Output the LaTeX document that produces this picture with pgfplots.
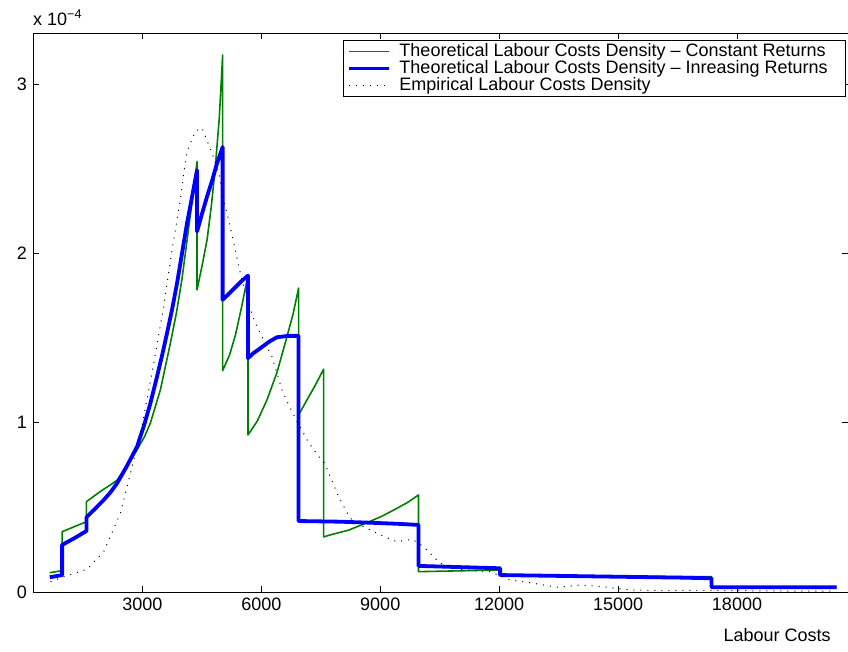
\documentclass[border=0pt]{standalone}
\usepackage{fontspec}
\setmainfont{Liberation Sans}
\usepackage{pgfplots}
\pgfplotsset{compat=1.18}
\definecolor{mgreen}{rgb}{0,0.5,0}
\definecolor{mblue}{rgb}{0,0,1}
\begin{document}
\fontsize{18bp}{20bp}\selectfont
\begin{tikzpicture}
\begin{axis}[
  at={(33bp,60bp)}, anchor=south west,
  width=815bp, height=559bp, scale only axis,
  xmin=240, xmax=20800, ymin=0, ymax=3.3,
  xtick={3000,6000,9000,12000,15000,18000},
  ytick={0,1,2,3},
  scaled x ticks=false,
  tick align=inside,
  major tick length=6bp,
  axis line style={line width=0.8bp},
  every tick/.style={black, line width=0.6bp},
  /pgf/number format/assume math mode=true,
  /pgf/number format/set thousands separator={},
  xticklabel={\pgfmathprintnumber[fixed,precision=0]{\tick}},
  ticklabel style={font=\fontsize{18bp}{20bp}\selectfont},
  xlabel={Labour Costs},
  xlabel style={at={(axis description cs:0.979,-0.0894)}, anchor=base east, inner sep=0pt},
  ylabel={x 10\textsuperscript{−4}},
  ylabel style={at={(axis description cs:0,1.0143)}, anchor=base west, rotate=-90, inner sep=0pt},
  legend style={at={(axis description cs:1,1)}, anchor=north east, xshift=-2bp, yshift=-7bp,
    draw=black, line width=0.6bp, inner xsep=3bp, inner ysep=3bp,
    font=\fontsize{18bp}{20bp}\selectfont, row sep=0pt,
    nodes={inner ysep=0.5bp, inner xsep=2bp},
    /tikz/every odd column/.append style={column sep=7bp}},
  legend cell align=left,
  legend image code/.code={\draw[#1] (0bp,0bp) -- (40bp,0bp);},
]
\addplot[mgreen, line width=1.6bp, line join=round] coordinates {
(663,0.114) (975,0.126) (975,0.356) (1588,0.415) (1588,0.533)
(1800,0.570) (2000,0.603) (2200,0.633) (2361,0.660) (2600,0.740) (2865,0.840)
(3050,0.915) (3201,0.997) (3453,1.193) (3706,1.469) (3860,1.650) (4000,1.850)
(4167,2.150) (4280,2.350) (4378,2.540) (4378,1.784) (4500,1.920)
(4631,2.079) (4740,2.280) (4840,2.510) (4940,2.800) (5024,3.170) (5024,1.307)
(5200,1.400) (5350,1.520) (5500,1.680) (5663,1.868) (5663,0.927)
(5900,1.010) (6143,1.134) (6400,1.300) (6647,1.508) (6800,1.640)
(6940,1.794) (6940,1.045) (7152,1.134) (7360,1.220) (7570,1.315)
(7570,0.325) (7739,0.337) (8200,0.365) (8664,0.409) (9050,0.448) (9420,0.494)
(9700,0.530) (9965,0.573) (9965,0.120) (12024,0.130) (12024,0.095) (17358,0.090)
(17358,0.028) (20512,0.028)
};
\addlegendentry{Theoretical Labour Costs Density – Constant Returns}
\addplot[mblue, line width=3.8bp, line join=round] coordinates {
(663,0.087) (975,0.100) (975,0.278) (1300,0.320) (1588,0.360) (1588,0.441)
(1800,0.490) (2024,0.543) (2200,0.590) (2361,0.642) (2600,0.740) (2865,0.858)
(3050,0.990) (3201,1.114) (3369,1.272) (3500,1.400) (3621,1.528) (3750,1.670)
(3874,1.823) (4000,2.000) (4126,2.177) (4250,2.330) (4378,2.490) (4378,2.128)
(4500,2.230) (4630,2.334) (4760,2.430) (4882,2.530) (5024,2.627) (5024,1.725)
(5200,1.765) (5350,1.800) (5500,1.835) (5663,1.868) (5663,1.380)
(5800,1.410) (5974,1.439) (6200,1.478) (6395,1.504) (6680,1.512)
(6940,1.512) (6940,0.419) (8000,0.415) (8747,0.409) (9400,0.403) (9965,0.396) (9965,0.154)
(12024,0.140) (12024,0.100) (16561,0.085) (17358,0.081) (17358,0.028)
(20512,0.028)
};
\addlegendentry{Theoretical Labour Costs Density – Inreasing Returns\hspace*{13bp}}
\addplot[black, line width=1bp, dash pattern=on 1bp off 6bp] coordinates {
(680,0.061) (1016,0.090) (1605,0.134) (2024,0.238) (2445,0.465)
(2697,0.700) (2991,0.980) (3285,1.350) (3537,1.685) (3748,2.020)
(3957,2.315) (4041,2.470) (4126,2.600) (4335,2.720) (4504,2.740)
(4756,2.590) (4923,2.480) (5049,2.315) (5175,2.197) (5344,2.020)
(5470,1.883) (5638,1.725) (5848,1.587) (6058,1.488) (6268,1.390)
(6394,1.292) (6520,1.193) (6700,1.100) (6940,0.990) (7200,0.880)
(7450,0.800) (7600,0.760) (7738,0.681) (7948,0.563) (8243,0.435)
(8579,0.386) (8999,0.337) (9420,0.297) (9798,0.311) (9965,0.290)
(10133,0.258) (10512,0.170) (11100,0.130) (11772,0.120) (12276,0.071)
(12780,0.055) (13453,0.028) (14040,0.041) (14628,0.031) (15301,0.012)
(16141,0.008) (17000,0.010) (18000,0.008) (19000,0.006) (20500,0.005)
};
\addlegendentry{Empirical Labour Costs Density}
\end{axis}
\pgfresetboundingbox
\path[use as bounding box] (0,0) rectangle (848bp,652bp);
\end{tikzpicture}
\end{document}
